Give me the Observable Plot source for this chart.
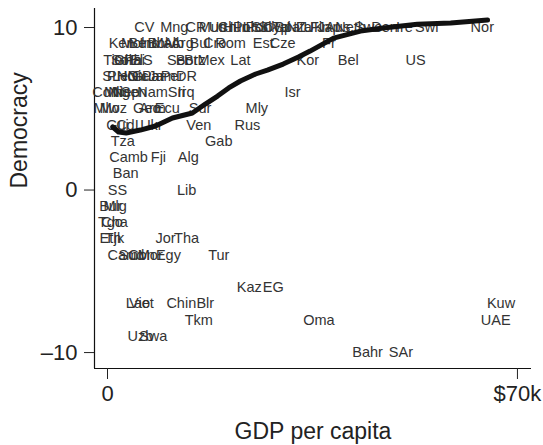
<!DOCTYPE html>
<html><head><meta charset="utf-8">
<script src="https://cdn.jsdelivr.net/npm/d3@7"></script>
<script src="https://cdn.jsdelivr.net/npm/@observablehq/plot@0.6"></script>
<style>body{margin:0;background:#fff}</style>
</head><body><div id="chart"></div>
<script>
// Country labels, GDP per capita ($k), democracy score
const countries = [
 "CV","Mng","CR","Mus","Uru","Chl","Hun","Pol","Lit","Por","Slo","Slk","Cyp","Tai","Spa","NZ","Ita","UK","Fin","Jap","Aus","Neth","Swe","Den","Ire","Swi","Nor",
 "Ken","Mol","Ben","Ind","Bol","Mac","Alb","Arg","Bul","Cro","Rom","Est","Cze","Fr",
 "Tim","Sol","Gha","Phi","ElS","Ser","Bot","Brz","Mex","Lat","Kor","Bel","US",
 "SLe","PNG","Hon","Nic","Gua","Par","Jam","Per","DR",
 "Com","Mli","Nig","Nep","Sen","Nam","Sri","Irq","Isr",
 "Mlw","Moz","Geo","Arm","Ecu","Sur","Mly",
 "Gui","CdI","Ukr","Ven","Rus",
 "Tza","Gab",
 "Camb","Fji","Alg",
 "Ban",
 "SS","Lib",
 "Bur","Mlg",
 "Tgo","Cha",
 "Eth","Tjk","Jor","Tha",
 "Cam","Sud","Con","Mor","Egy","Tur",
 "Kaz","EG",
 "Lao","Viet","Chin","Blr","Kuw",
 "Tkm","Oma","UAE",
 "Uzb","Swa",
 "Bahr","SAr"
];
const gdp = [
 6.3,11.4,15.1,17.9,19.3,20.7,22.0,23.2,24.4,25.5,26.4,27.5,28.7,29.7,30.7,32.2,33.5,35.2,36.3,37.8,39.3,41.5,44.5,47.3,50.7,54.5,64.0,
 2.4,4.3,5.8,7.2,8.6,9.9,11.3,12.8,15.8,18.3,21.0,26.6,29.9,37.8,
 1.3,2.4,3.4,4.6,5.8,12.1,13.5,14.9,17.7,22.7,34.2,41.1,52.6,
 1.3,2.6,3.9,5.2,6.5,7.8,9.3,11.0,13.5,
 0.0,1.0,2.0,3.2,4.5,7.7,11.8,13.4,31.6,
 -0.2,1.0,6.7,7.7,10.2,15.8,25.5,
 1.7,3.4,7.5,15.6,23.9,
 2.6,19.0,
 3.6,8.7,13.8,
 3.1,
 1.7,13.5,
 0.5,1.3,
 0.5,1.2,
 0.5,1.2,9.9,13.5,
 2.6,4.1,5.8,7.3,10.4,19.0,
 24.2,28.3,
 5.2,5.8,12.6,16.7,67.2,
 15.6,36.1,66.3,
 5.6,7.8,
 44.4,50.1
];
const democracy = [
 10,10,10,10,10,10,10,10,10,10,10,10,10,10,10,10,10,10,10,10,10,10,10,10,10,10,10,
 9,9,9,9,9,9,9,9,9,9,9,9,9,9,
 8,8,8,8,8,8,8,8,8,8,8,8,8,
 7,7,7,7,7,7,7,7,7,
 6,6,6,6,6,6,6,6,6,
 5,5,5,5,5,5,5,
 4,4,4,4,4,
 3,3,
 2,2,2,
 1,
 0,0,
 -1,-1,
 -2,-2,
 -3,-3,-3,-3,
 -4,-4,-4,-4,-4,-4,
 -6,-6,
 -7,-7,-7,-7,-7,
 -8,-8,-8,
 -9,-9,
 -10,-10
];
// smoothed (lowess) fit
const smoothGdp = [0.9,1.9,3.2,5.6,8.2,11.1,14.5,16.7,18.8,20.7,22.7,25.3,27.3,30.0,32.6,34.6,38.6,43.2,47.1,52.9,58.6,64.9];
const smoothDem = [3.88,3.57,3.51,3.69,3.94,4.43,4.74,5.29,5.78,6.28,6.71,7.14,7.38,7.75,8.18,8.55,9.35,9.78,9.97,10.2,10.28,10.46];

const xTicks = [0, 70];
const xTickLabels = ["0", "$70k"];
const yTicks = [-10, 0, 10];
const yTickLabels = ["\u201310", "0", "10"];
const xTitle = "GDP per capita";
const yTitle = "Democracy";
const xDomain = [-2.22, 72.4];
const yDomain = [-10.98, 11.17];

const points = countries.map((c, i) => ({c, g: gdp[i], d: democracy[i]}));
const smooth = smoothGdp.map((g, i) => ({g, d: smoothDem[i]}));

const chart = Plot.plot({
  width: 543, height: 445,
  marginLeft: 94, marginRight: 12, marginTop: 8, marginBottom: 77,
  x: {domain: xDomain},
  y: {domain: yDomain},
  style: {fontFamily: "'Liberation Sans', Arial, sans-serif", background: "white", color: "#222"},
  marks: [
    Plot.ruleX([xDomain[0]], {stroke: "#111", strokeWidth: 1.2}),
    Plot.ruleY([yDomain[0]], {stroke: "#111", strokeWidth: 1.2}),
    Plot.axisX(xTicks, {tickSize: 11, tickPadding: 6, fontSize: 22,
      tickFormat: d => xTickLabels[xTicks.indexOf(d)], label: null}),
    Plot.axisY(yTicks, {tickSize: 10, tickPadding: 7, fontSize: 22,
      tickFormat: d => yTickLabels[yTicks.indexOf(d)], label: null}),
    Plot.text([xTitle], {frameAnchor: "bottom", dy: 63, fontSize: 23, lineAnchor: "middle", fill: "#222"}),
    Plot.text([yTitle], {frameAnchor: "left", dx: -75, rotate: -90, fontSize: 23, lineAnchor: "middle", fill: "#222"}),
    Plot.text(points, {x: "g", y: "d", text: "c", fontSize: 14.5, fill: "#333"}),
    Plot.line(smooth, {x: "g", y: "d", stroke: "#111", strokeWidth: 5, strokeLinejoin: "round", strokeLinecap: "round"})
  ]
});
document.getElementById("chart").appendChild(chart);
</script>
</body></html>
